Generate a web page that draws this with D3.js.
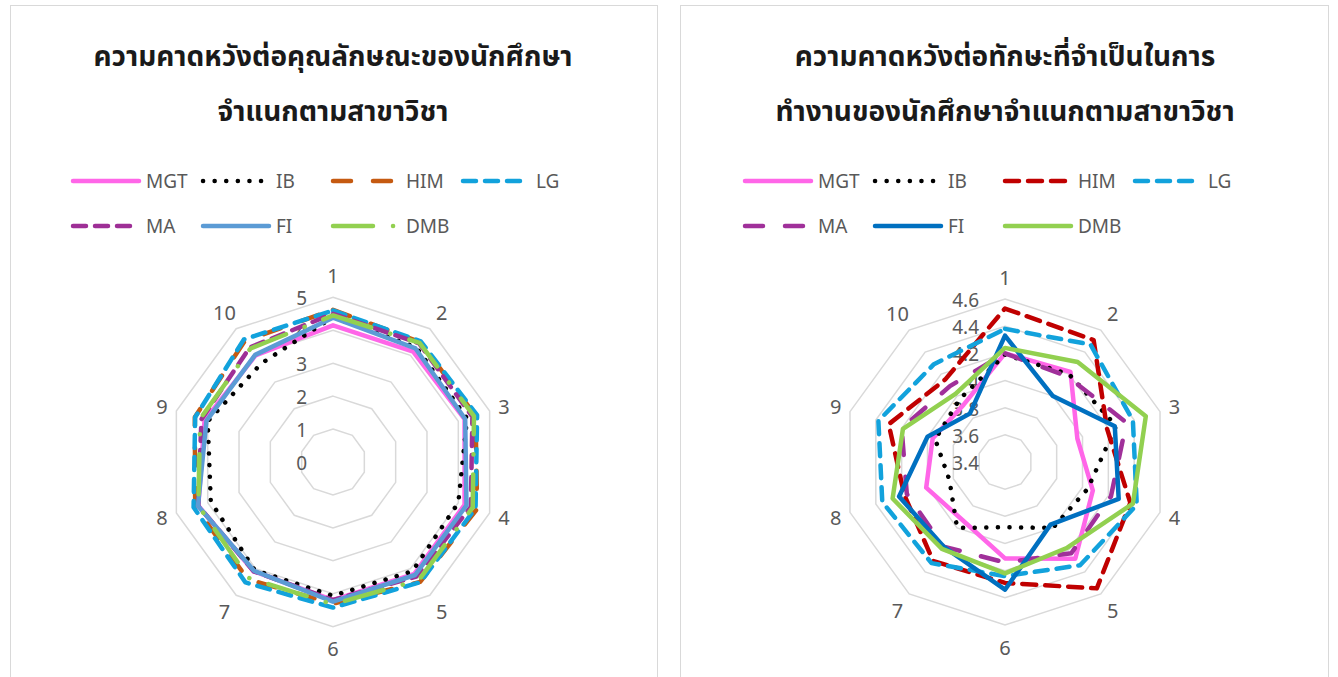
<!DOCTYPE html>
<html>
<head>
<meta charset="utf-8">
<script src="https://cdn.jsdelivr.net/npm/d3@7"></script>
<style>
  body { margin: 0; background: #fff; }
  svg { display: block; }
  text { font-family: "Noto Sans", "Noto Sans Thai", sans-serif; }
</style>
</head>
<body>
<script>
// axes 1..10
var categories = ["1", "2", "3", "4", "5", "6", "7", "8", "9", "10"];
var seriesNames = ["MGT", "IB", "HIM", "LG", "MA", "FI", "DMB"];

// left chart: ความคาดหวังต่อคุณลักษณะ
var leftTitle = ["ความคาดหวังต่อคุณลักษณะของนักศึกษา", "จำแนกตามสาขาวิชา"];
var leftTicks = [0, 1, 2, 3, 4, 5];
var leftMGT = [4.15, 4.14, 4.20, 4.20, 4.20, 4.19, 4.10, 4.30, 4.10, 4.00];
var leftIB  = [4.40, 4.30, 4.28, 4.00, 4.10, 4.06, 4.05, 3.90, 4.00, 3.70];
var leftHIM = [4.62, 4.50, 4.55, 4.60, 4.50, 4.30, 4.40, 4.40, 4.41, 4.55];
var leftLG  = [4.60, 4.53, 4.60, 4.55, 4.51, 4.42, 4.52, 4.45, 4.40, 4.60];
var leftMA  = [4.50, 4.45, 4.45, 4.40, 4.30, 4.19, 4.10, 4.30, 4.20, 4.30];
var leftFI  = [4.38, 4.26, 4.22, 4.26, 4.24, 4.24, 4.08, 4.31, 4.04, 4.02];
var leftDMB = [4.45, 4.47, 4.50, 4.46, 4.43, 4.32, 4.35, 4.30, 4.24, 4.26];

// right chart: ความคาดหวังต่อทักษะ
var rightTitle = ["ความคาดหวังต่อทักษะที่จำเป็นในการ", "ทำงานของนักศึกษาจำแนกตามสาขาวิชา"];
var rightTicks = [3.4, 3.6, 3.8, 4.0, 4.2, 4.4, 4.6];
var rightMGT = [4.20, 4.22, 3.96, 4.08, 4.28, 4.11, 3.93, 4.01, 3.96, 3.92];
var rightIB  = [4.19, 4.20, 4.26, 4.04, 4.00, 3.88, 4.00, 3.83, 3.94, 3.97];
var rightHIM = [4.53, 4.51, 4.19, 4.37, 4.55, 4.29, 4.30, 4.18, 4.30, 4.15];
var rightLG  = [4.38, 4.47, 4.39, 4.42, 4.34, 4.24, 4.32, 4.35, 4.38, 4.29];
var rightMA  = [4.20, 4.18, 4.34, 4.22, 4.23, 4.14, 4.17, 4.16, 4.20, 4.09];
var rightFI  = [4.33, 4.00, 4.25, 4.28, 3.97, 4.34, 4.17, 4.22, 4.00, 3.84];
var rightDMB = [4.24, 4.31, 4.49, 4.39, 4.18, 4.22, 4.19, 4.27, 4.19, 4.02];

var W = 1338, H = 677;
var svg = d3.select("body").append("svg").attr("width", W).attr("height", H);

var leftStyles = [
  { color: "#ff66e8", dash: null },
  { color: "#000000", dash: "0.1 11.5" },
  { color: "#c55a11", dash: "18 22" },
  { color: "#12a2dc", dash: "13 9" },
  { color: "#9e2f96", dash: "13 9" },
  { color: "#5b9bd5", dash: null },
  { color: "#92d050", dash: "40 20 0.1 20" }
];
var rightStyles = [
  { color: "#ff66e8", dash: null },
  { color: "#000000", dash: "0.1 11.5" },
  { color: "#c00000", dash: "14 9" },
  { color: "#12a2dc", dash: "13 9" },
  { color: "#a0309a", dash: "18 22" },
  { color: "#0070c0", dash: null },
  { color: "#92d050", dash: null }
];

function drawPanel(opt) {
  var g = svg.append("g");

  g.append("rect")
    .attr("x", opt.px + 0.5).attr("y", 5.5)
    .attr("width", opt.pw).attr("height", H + 20)
    .attr("fill", "#fff").attr("stroke", "#d9d9d9").attr("stroke-width", 1);

  // title
  g.selectAll(".title").data(opt.title).enter().append("text")
    .attr("x", opt.cx).attr("y", (d, i) => 55 + i * 55)
    .attr("text-anchor", "middle").attr("dominant-baseline", "central")
    .style("font-size", "28px").style("font-weight", "bold").style("fill", "#1a1a1a")
    .text(d => d);

  // legend
  var leg = g.selectAll(".leg").data(opt.names).enter().append("g")
    .attr("transform", (d, i) => "translate(" + (opt.legX + (i % 4) * 130) + "," + (181 + Math.floor(i / 4) * 45) + ")");
  leg.append("line")
    .attr("x1", 2).attr("x2", 68).attr("y1", 0).attr("y2", 0)
    .attr("stroke", (d, i) => opt.styles[i].color)
    .attr("stroke-width", 4.5).attr("stroke-linecap", "round")
    .attr("stroke-dasharray", (d, i) => opt.styles[i].dash);
  leg.append("text")
    .attr("x", 75).attr("y", 0).attr("dominant-baseline", "central")
    .style("font-size", "19px").style("fill", "#595959")
    .text(d => d);

  var r = d3.scaleLinear().domain(opt.domain).range([0, opt.R]);
  var angle = d3.scaleLinear().domain([0, categories.length]).range([0, 2 * Math.PI]);
  var chart = g.append("g").attr("transform", "translate(" + opt.cx + "," + opt.cy + ")");

  var ring = d3.lineRadial()
    .angle((d, i) => angle(i))
    .radius(d => r(d))
    .curve(d3.curveLinearClosed);

  // grid rings
  chart.selectAll(".ring").data(opt.ticks.slice(1)).enter().append("path")
    .attr("d", t => ring(categories.map(() => t)))
    .attr("fill", "none").attr("stroke", "#d9d9d9").attr("stroke-width", 1.5);

  // tick labels
  chart.selectAll(".tick").data(opt.ticks).enter().append("text")
    .attr("x", -26).attr("y", t => -r(t) + 1)
    .attr("text-anchor", "end").attr("dominant-baseline", "central")
    .style("font-size", "19px").style("fill", "#595959")
    .text(opt.fmt);

  // category labels
  chart.selectAll(".cat").data(categories).enter().append("text")
    .attr("x", (d, i) => Math.sin(angle(i)) * (opt.R + 12 + 10 * Math.abs(Math.cos(angle(i)))))
    .attr("y", (d, i) => -Math.cos(angle(i)) * (opt.R + 12 + 10 * Math.abs(Math.cos(angle(i)))))
    .attr("text-anchor", "middle").attr("dominant-baseline", "central")
    .style("font-size", "20px").style("fill", "#595959")
    .text(d => d);

  // series
  chart.selectAll(".series").data(opt.series).enter().append("path")
    .attr("d", d => ring(d))
    .attr("fill", "none")
    .attr("stroke", (d, i) => opt.styles[i].color)
    .attr("stroke-width", 4.5)
    .attr("stroke-linecap", "round").attr("stroke-linejoin", "round")
    .attr("stroke-dasharray", (d, i) => opt.styles[i].dash);
}

drawPanel({
  px: 10, pw: 647, cx: 333, cy: 462, R: 164.7, legX: 71,
  title: leftTitle, names: seriesNames, styles: leftStyles,
  domain: [0, 5], ticks: leftTicks, fmt: d3.format("d"),
  series: [leftMGT, leftIB, leftHIM, leftLG, leftMA, leftFI, leftDMB]
});

drawPanel({
  px: 680, pw: 648, cx: 1005, cy: 462, R: 163, legX: 743,
  title: rightTitle, names: seriesNames, styles: rightStyles,
  domain: [3.4, 4.6], ticks: rightTicks, fmt: d => String(+d.toFixed(1)),
  series: [rightMGT, rightIB, rightHIM, rightLG, rightMA, rightFI, rightDMB]
});
</script>
</body>
</html>
